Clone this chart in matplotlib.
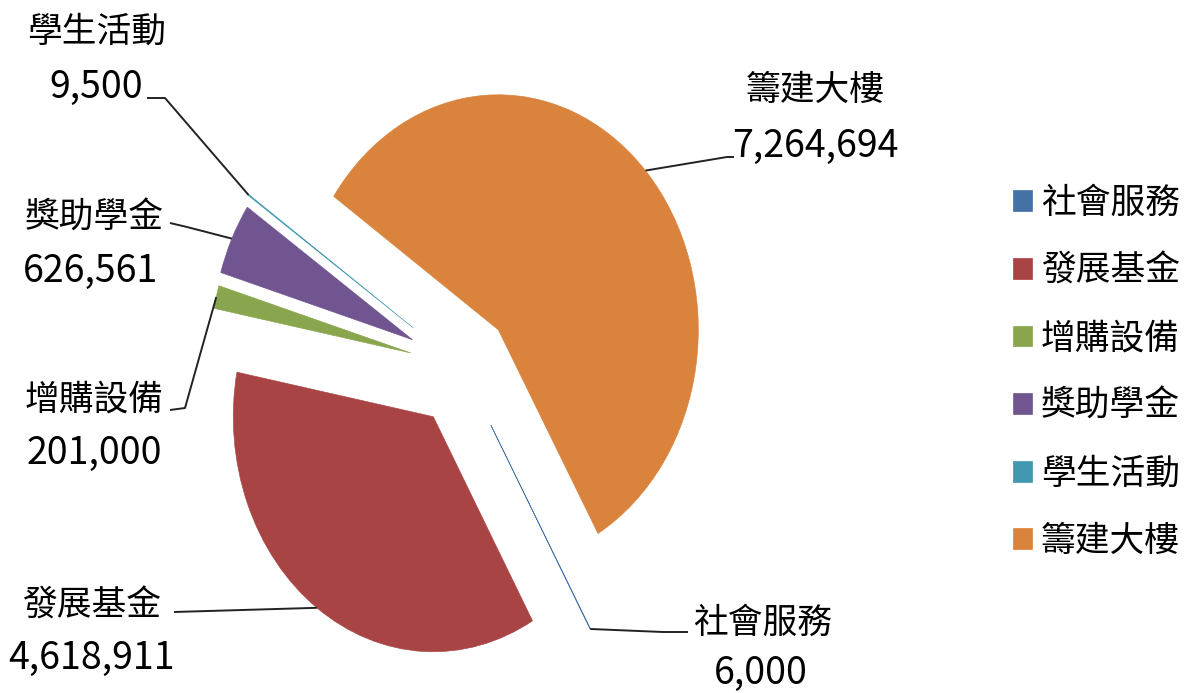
import numpy as np
import matplotlib
matplotlib.use('Agg')
import matplotlib.pyplot as plt
from matplotlib import font_manager

### Data
names = ['社會服務', '發展基金', '增購設備', '獎助學金', '學生活動', '籌建大樓']
amounts = [6000, 4618911, 201000, 626561, 9500, 7264694]
colors = ['#4472A6', '#A84444', '#89A64E', '#705590', '#4198B0', '#D9833D']
explode = [0.28, 0.255, 0.27, 0.28, 0.30, 0.24]

### Label layout (pixel positions): name centre, value centre, leader elbow, leader end
name_pos = [(763, 620), (92, 603), (94, 397), (94, 215), (97, 29), (815, 87)]
value_pos = [(761, 670), (92, 655), (94, 450), (91, 268), (96, 84), (815, 143)]
elbows = [(663, 632), None, (185, 408), (187, 227), (165, 98), (727, 157)]
ends = [(688, 632), (174, 612), (170, 410), (170, 223), (147, 98), (734, 157)]

### Fonts
avail = {f.name for f in font_manager.fontManager.ttflist}
cjk = 'Noto Sans CJK TC'
if 'Liberation Sans Narrow' in avail:
    numfont, numsize, numoff = 'Liberation Sans Narrow', 32, 16
else:
    numfont, numsize, numoff = cjk, 27, 14
plt.rcParams['font.family'] = [cjk, 'DejaVu Sans']

W, H = 1193, 693
cx, cy = 463, 368          # pie centre in pixels
rx, ry = 200, 235          # pie radius in pixels (stretched vertically)

def px(p):
    return ((p[0] - cx) / rx, (cy - p[1]) / ry)

fig = plt.figure(figsize=(W / 100, H / 100), dpi=100)
ax = fig.add_axes([0, 0, 1, 1])

wedges, _ = ax.pie(amounts, colors=colors, explode=explode, startangle=-60.1,
                   counterclock=False, radius=1,
                   wedgeprops=dict(linewidth=0.45))
for w, col in zip(wedges, colors):
    w.set_edgecolor(col)

ax.set_aspect('auto')
ax.set_xlim(-cx / rx, (W - cx) / rx)
ax.set_ylim(-(H - cy) / ry, cy / ry)
ax.axis('off')

### Labels and leader lines
for i, w in enumerate(wedges):
    tm = np.deg2rad(0.5 * (w.theta1 + w.theta2))
    x0 = w.center[0] + w.r * np.cos(tm)
    y0 = w.center[1] + w.r * np.sin(tm)
    pts = [(x0, y0)]
    if elbows[i] is not None:
        pts.append(px(elbows[i]))
    pts.append(px(ends[i]))
    xs, ys = zip(*pts)
    ax.plot(xs, ys, color='#222222', lw=1.4, solid_capstyle='butt')

    nx, ny = px((name_pos[i][0], name_pos[i][1] + 13))
    ax.text(nx, ny, names[i], fontsize=25, ha='center', va='baseline',
            color='black')
    vx, vy = px((value_pos[i][0], value_pos[i][1] + numoff))
    ax.text(vx, vy, f'{amounts[i]:,}', fontsize=numsize, family=numfont,
            ha='center', va='baseline', color='black')

### Legend
leg = fig.legend(wedges, names, loc='upper left',
                 bbox_to_anchor=(1013 / W, 1 - 186 / H), frameon=False,
                 fontsize=25, handlelength=0.55, handleheight=0.55,
                 handletextpad=0.25, labelspacing=0.94, borderpad=0,
                 borderaxespad=0)
for h in leg.legend_handles:
    h.set_linewidth(0.5)

plt.savefig('out.png', dpi=100)
